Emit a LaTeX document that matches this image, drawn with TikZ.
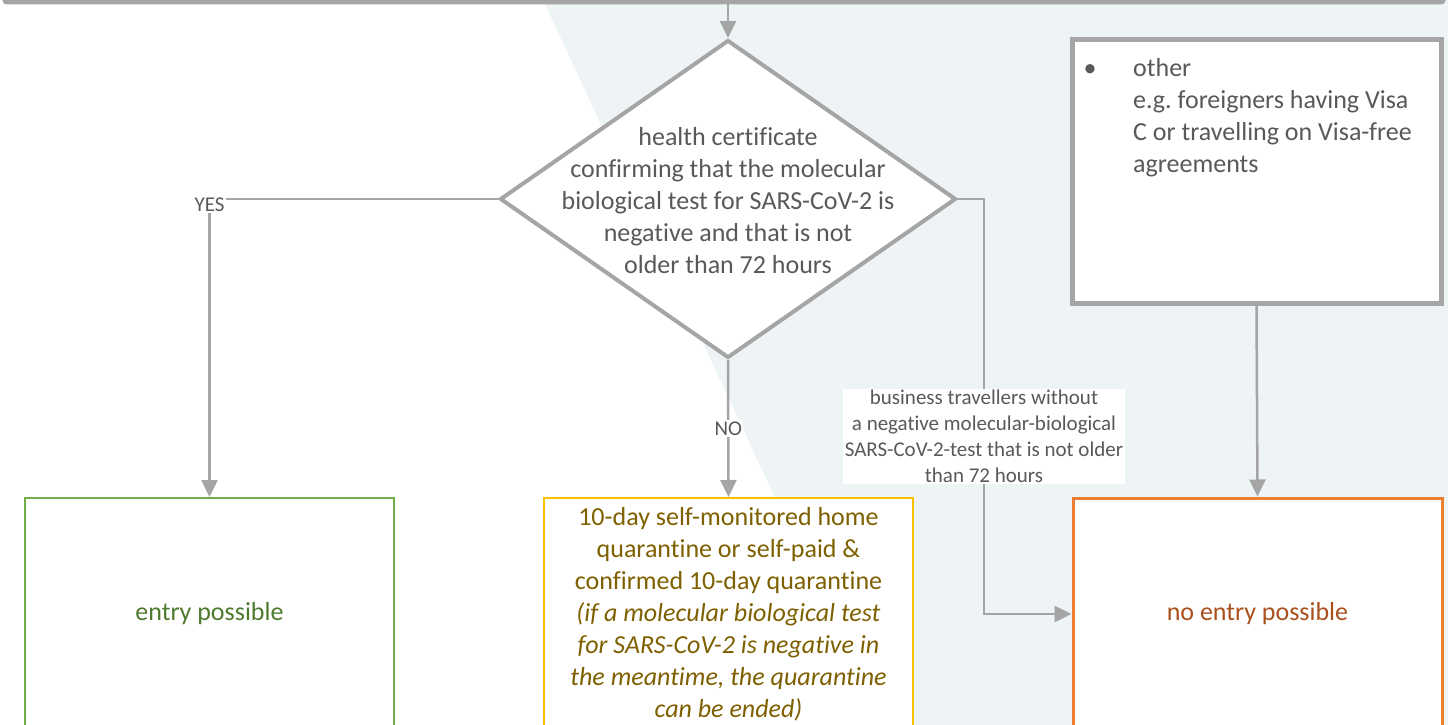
\documentclass[tikz,border=0pt]{standalone}
\usepackage{fontspec}
\setmainfont[Ligatures=NoCommon]{Carlito}
\usetikzlibrary{arrows.meta, shapes.geometric}
\definecolor{linegray}{HTML}{A5A5A5}
\definecolor{textgray}{HTML}{595959}
\definecolor{bgblue}{HTML}{EEF3F6}
\definecolor{okgreen}{HTML}{70AD47}
\definecolor{okgreentext}{HTML}{4E7A2E}
\definecolor{quaryellow}{HTML}{FFC000}
\definecolor{quartext}{HTML}{7F6000}
\definecolor{noorange}{HTML}{ED7D31}
\definecolor{noorangetext}{HTML}{A9501C}
\frenchspacing

\begin{document}
\begin{tikzpicture}[x=1pt, y=-1pt,
    line/.style={draw=linegray, line width=2.5pt},
    arrow/.style={line, -{Triangle[length=17pt, width=16pt]}},
    decision/.style={diamond, draw=linegray, line width=4pt, fill=white, minimum width=456pt, minimum height=318pt, inner sep=0pt},
    bigtext/.style={text=textgray, font=\fontsize{26}{32}\selectfont, align=center},
    lbl/.style={text=textgray, font=\fontsize{21}{26}\selectfont, align=center, fill=white, inner sep=1.5pt},
    greybox/.style={draw=linegray, line width=5pt, fill=white},
    result/.style={draw, fill=white, line width=2pt, minimum width=369pt, minimum height=232pt, inner sep=0pt, font=\fontsize{26}{32}\selectfont, align=center},
    ]
    \useasboundingbox (0,0) rectangle (1448,725);
    % light band behind the right half
    \fill[bgblue] (543,0) -- (1448,0) -- (1448,725) -- (881,725) -- cycle;

    \node[greybox, minimum width=1438pt, minimum height=100pt, rounded corners=2pt] (prev) at (724,-48) {};
    \node[decision] (test) at (728,199) {};
    \node[bigtext] (testtext) at ([yshift=-2pt]test.center) {health certificate\\confirming that the molecular\\biological test for SARS-CoV-2 is\\negative and that is not\\older than 72 hours};

    \node[greybox, minimum width=369pt, minimum height=263pt] (other) at (1256.5,171.5) {};
    \node[bigtext, align=left, anchor=base west, inner sep=0pt] (othertext) at (1083.5,77) {%
        \begin{tabular}[t]{@{}p{49.5pt}@{}l@{}}
        \textbullet & other\\
         & e.g. foreigners having Visa\\
         & C or travelling on Visa-free\\
         & agreements
        \end{tabular}};

    \node[result, draw=okgreen, text=okgreentext] (entry) at (209.5,614) {entry possible};
    \node[result, draw=quaryellow, text=quartext] (quar) at (728.5,614) {10-day self-monitored home\\quarantine or self-paid \&\\confirmed 10-day quarantine\\\textit{(if a molecular biological test}\\\textit{for SARS-CoV-2 is negative in}\\\textit{the meantime, the quarantine}\\\textit{can be ended)}};
    \node[result, draw=noorange, text=noorangetext, line width=3pt] (noentry) at (1257.5,614) {no entry possible};

    \draw[arrow] (prev.south -| test.north) -- (test.north);
    \draw[arrow] (test.west) -| node[lbl, pos=0.5, yshift=-6pt] {YES} (entry.north);
    \draw[arrow] (test.south) -- node[lbl] {NO} (quar.north);
    \draw[arrow] (test.east) -- ++(26,0) |- node[lbl, pos=0.286] {business travellers without\\a negative molecular-biological\\SARS-CoV-2-test that is not older\\than 72 hours} (noentry.west);
    \draw[arrow] (other.south) -- (noentry.north);
\end{tikzpicture}
\end{document}
